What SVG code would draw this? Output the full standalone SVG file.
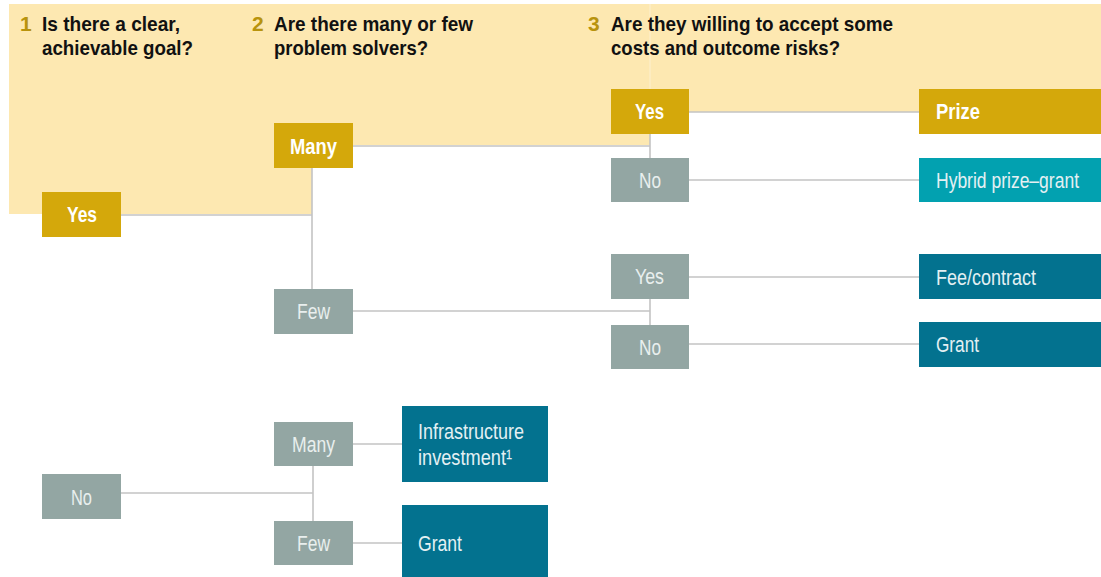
<svg xmlns="http://www.w3.org/2000/svg" width="1101" height="577" viewBox="0 0 1101 577">
<style>
.hd{font-family:"Liberation Sans Narrow","Liberation Sans",Arial,sans-serif;font-weight:bold;font-size:21px;fill:#111111}
.num{font-family:"Liberation Sans Narrow","Liberation Sans",Arial,sans-serif;font-weight:bold;font-size:21px;fill:#B8930D}
.lb{font-family:"Liberation Sans Narrow","Liberation Sans",Arial,sans-serif;font-size:22px}
.b{font-weight:bold;fill:#ffffff}
.g{fill:#E9EFEE}
.w{fill:#E4F0F3}
.gold{fill:#D4A80B}
.gray{fill:#93A6A3}
.teal{fill:#03728F}
.cyan{fill:#02A1B0}
.cn{fill:none;stroke:#C4C4C4;stroke-width:1.6}
</style>
<rect width="1101" height="577" fill="#ffffff"/>
<polygon points="9,4 1101,4 1101,112 650,112 650,145 312,145 312,214 9,214" fill="#FDE8B1"/>
<line x1="650" y1="4" x2="650" y2="89" stroke="#FDF0CF" stroke-width="1"/>
<g id="headers">
<text class="num" x="20" y="31">1</text>
<text class="hd" x="42" y="31" textLength="138" lengthAdjust="spacingAndGlyphs">Is there a clear,</text>
<text class="hd" x="42" y="55" textLength="151" lengthAdjust="spacingAndGlyphs">achievable goal?</text>
<text class="num" x="252" y="31">2</text>
<text class="hd" x="274" y="31" textLength="199" lengthAdjust="spacingAndGlyphs">Are there many or few</text>
<text class="hd" x="274" y="55" textLength="154" lengthAdjust="spacingAndGlyphs">problem solvers?</text>
<text class="num" x="588" y="31">3</text>
<text class="hd" x="611" y="31" textLength="282" lengthAdjust="spacingAndGlyphs">Are they willing to accept some</text>
<text class="hd" x="611" y="55" textLength="229" lengthAdjust="spacingAndGlyphs">costs and outcome risks?</text>
</g>
<g id="connectors">
<path class="cn" d="M121,215 H312 M312,168 V289"/>
<path class="cn" d="M353,146 H650 M650,134 V158"/>
<path class="cn" d="M689,112 H919 M689,180 H919"/>
<path class="cn" d="M353,311 H650 M650,299 V325"/>
<path class="cn" d="M689,277 H919 M689,344 H919"/>
<path class="cn" d="M121,493 H313 M313,466 V521"/>
<path class="cn" d="M353,444 H402 M353,543 H402"/>
</g>
<g id="n-yes1"><rect class="gold" x="42" y="192" width="79" height="45"/><text class="lb b" x="67" y="222" textLength="30" lengthAdjust="spacingAndGlyphs">Yes</text></g>
<g id="n-no1"><rect class="gray" x="42" y="474" width="79" height="45"/><text class="lb g" x="71" y="505" textLength="21" lengthAdjust="spacingAndGlyphs">No</text></g>
<g id="n-many"><rect class="gold" x="274" y="123" width="79" height="45"/><text class="lb b" x="290" y="154" textLength="47" lengthAdjust="spacingAndGlyphs">Many</text></g>
<g id="n-few"><rect class="gray" x="274" y="289" width="79" height="45"/><text class="lb g" x="297" y="319" textLength="33" lengthAdjust="spacingAndGlyphs">Few</text></g>
<g id="n-many2"><rect class="gray" x="274" y="422" width="79" height="44"/><text class="lb g" x="292" y="452" textLength="43" lengthAdjust="spacingAndGlyphs">Many</text></g>
<g id="n-few2"><rect class="gray" x="274" y="521" width="79" height="44"/><text class="lb g" x="297" y="551" textLength="33" lengthAdjust="spacingAndGlyphs">Few</text></g>
<g id="n-infra"><rect class="teal" x="402" y="406" width="146" height="76"/><text class="lb w" x="418" y="439" textLength="106" lengthAdjust="spacingAndGlyphs">Infrastructure</text><text class="lb w" x="418" y="465" textLength="94" lengthAdjust="spacingAndGlyphs">investment¹</text></g>
<g id="n-grant2"><rect class="teal" x="402" y="505" width="146" height="72"/><text class="lb w" x="418" y="551" textLength="44" lengthAdjust="spacingAndGlyphs">Grant</text></g>
<g id="n-yes3"><rect class="gold" x="611" y="89" width="78" height="45"/><text class="lb b" x="635" y="119" textLength="29" lengthAdjust="spacingAndGlyphs">Yes</text></g>
<g id="n-no3"><rect class="gray" x="611" y="158" width="78" height="44"/><text class="lb g" x="639" y="188" textLength="22" lengthAdjust="spacingAndGlyphs">No</text></g>
<g id="n-yes4"><rect class="gray" x="611" y="254" width="78" height="45"/><text class="lb g" x="635" y="284" textLength="29" lengthAdjust="spacingAndGlyphs">Yes</text></g>
<g id="n-no4"><rect class="gray" x="611" y="325" width="78" height="44"/><text class="lb g" x="639" y="355" textLength="22" lengthAdjust="spacingAndGlyphs">No</text></g>
<g id="n-prize"><rect class="gold" x="919" y="89" width="182" height="45"/><text class="lb b" x="936" y="119" textLength="44" lengthAdjust="spacingAndGlyphs">Prize</text></g>
<g id="n-hybrid"><rect class="cyan" x="919" y="158" width="182" height="44"/><text class="lb w" x="936" y="188" font-size="20" textLength="143" lengthAdjust="spacingAndGlyphs">Hybrid prize–grant</text></g>
<g id="n-fee"><rect class="teal" x="919" y="254" width="182" height="45"/><text class="lb w" x="936" y="285" textLength="100" lengthAdjust="spacingAndGlyphs">Fee/contract</text></g>
<g id="n-grant"><rect class="teal" x="919" y="322" width="182" height="45"/><text class="lb w" x="936" y="352" textLength="43" lengthAdjust="spacingAndGlyphs">Grant</text></g>
</svg>
